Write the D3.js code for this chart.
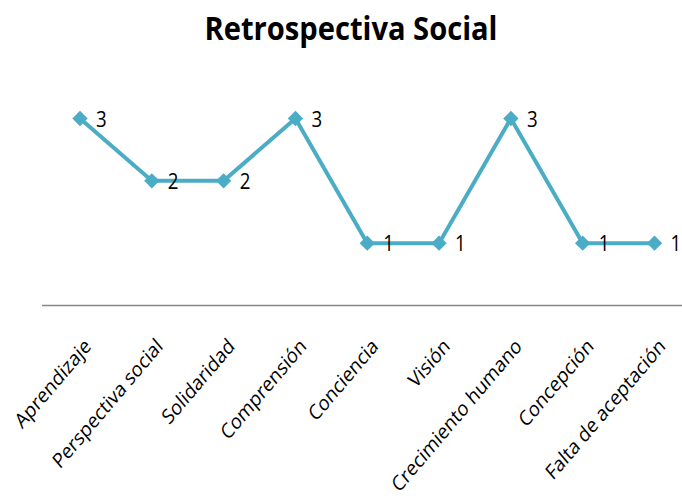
<!DOCTYPE html>
<html>
<head>
<meta charset="utf-8">
<script src="https://cdn.jsdelivr.net/npm/d3@7"></script>
<style>
  html, body { margin: 0; padding: 0; background: #fff; }
  svg { display: block; }
</style>
</head>
<body>
<svg id="chart" width="682" height="503"></svg>
<script>
const title = "Retrospectiva Social";
const categories = ["Aprendizaje", "Perspectiva social", "Solidaridad", "Comprensión", "Conciencia", "Visión", "Crecimiento humano", "Concepción", "Falta de aceptación"];
const values = [3, 2, 2, 3, 1, 1, 3, 1, 1];

const W = 682, H = 503;
const color = "#4bacc6";
const font = "'Open Sans', 'DejaVu Sans', sans-serif";

const svg = d3.select("#chart");

const x = d3.scalePoint().domain(categories).range([80, 654.5]);
const y = d3.scaleLinear().domain([0, 3]).range([305.5, 118.5]);

// title
svg.append("text")
  .attr("x", 351).attr("y", 40)
  .attr("text-anchor", "middle")
  .attr("font-family", font)
  .attr("font-weight", "bold")
  .attr("font-size", 32)
  .attr("textLength", 293)
  .attr("lengthAdjust", "spacingAndGlyphs")
  .attr("fill", "#000")
  .text(title);

// axis line
const xAxis = d3.axisBottom(x).tickSize(0).tickFormat("");
const gx = svg.append("g").attr("transform", `translate(0,${y(0)})`).call(xAxis);
gx.select(".domain").attr("d", "M42,0H682").attr("stroke", "#868686").attr("stroke-width", 1.5);

// category labels (slightly condensed horizontally, like the reference)
svg.append("g").selectAll("text")
  .data(categories)
  .join("text")
  .attr("transform", d => `translate(${x(d) + 12},${y(0) + 42}) scale(0.85,1) rotate(-45)`)
  .attr("text-anchor", "end")
  .attr("font-family", font)
  .attr("font-size", 21)
  .attr("fill", "#000")
  .text(d => d);

// line
const data = categories.map((c, i) => ({ c, v: values[i] }));
svg.append("path")
  .datum(data)
  .attr("fill", "none")
  .attr("stroke", color)
  .attr("stroke-width", 4)
  .attr("stroke-linejoin", "round")
  .attr("d", d3.line().x(d => x(d.c)).y(d => y(d.v)));

// markers
svg.append("g").selectAll("path")
  .data(data)
  .join("path")
  .attr("transform", d => `translate(${x(d.c)},${y(d.v)})`)
  .attr("d", d3.symbol(d3.symbolDiamond2, 150))
  .attr("fill", color);

// data labels
svg.append("g").selectAll("text")
  .data(data)
  .join("text")
  .attr("transform", d => `translate(${x(d.c) + 16},${y(d.v) + 8}) scale(0.85,1)`)
  .attr("font-family", font)
  .attr("font-size", 22)
  .attr("fill", "#000")
  .text(d => d.v);
</script>
</body>
</html>
